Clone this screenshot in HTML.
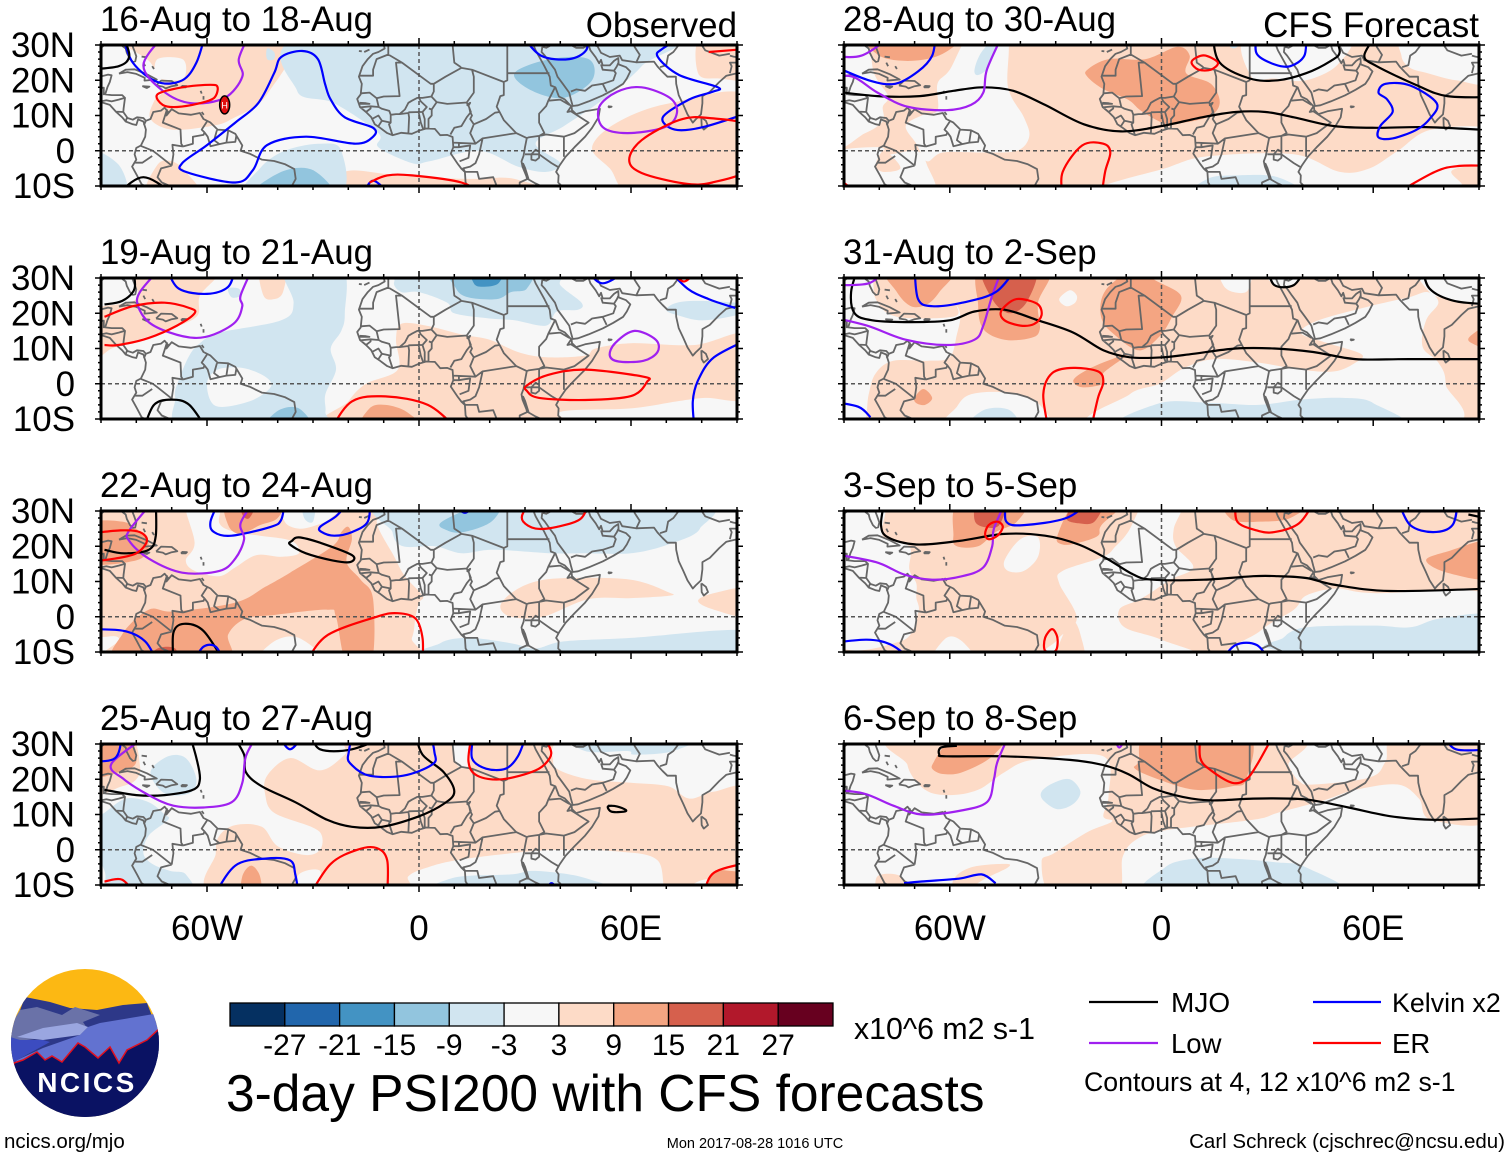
<!DOCTYPE html>
<html lang="en">
<head>
<meta charset="utf-8">
<title>3-day PSI200 with CFS forecasts</title>
<style>
html,body{margin:0;padding:0;background:#fff;width:1510px;height:1158px;overflow:hidden}
svg{display:block}
text{font-family:"Liberation Sans",Arial,sans-serif;fill:#000}
</style>
</head>
<body>
<svg id="chart" xmlns="http://www.w3.org/2000/svg" width="1510" height="1158" viewBox="0 0 1510 1158">
  <g id="panels"></g>

  <g id="colorbar"></g>
  <text x="854" y="1039" font-size="30.3">x10^6 m2 s-1</text>
  <text x="226" y="1111" font-size="51.5">3-day PSI200 with CFS forecasts</text>

  <g>
    <line x1="1089" y1="1002" x2="1158" y2="1002" stroke="#000" stroke-width="2.2"/>
    <text x="1171" y="1012" font-size="28">MJO</text>
    <line x1="1313" y1="1002" x2="1381" y2="1002" stroke="#0000ff" stroke-width="2.2"/>
    <text x="1392" y="1012" font-size="26.8">Kelvin x2</text>
    <line x1="1089" y1="1043" x2="1158" y2="1043" stroke="#a020f0" stroke-width="2.2"/>
    <text x="1171" y="1053" font-size="27.5">Low</text>
    <line x1="1313" y1="1043" x2="1381" y2="1043" stroke="#ff0000" stroke-width="2.2"/>
    <text x="1392" y="1053" font-size="27.5">ER</text>
    <text x="1084" y="1091" font-size="26.7">Contours at 4, 12 x10^6 m2 s-1</text>
  </g>

  <g>
    <clipPath id="logoClip"><circle cx="85" cy="1043" r="74"/></clipPath>
    <g clip-path="url(#logoClip)">
      <rect x="10" y="968" width="150" height="150" fill="#fcb813"/>
      <polygon points="10,1037 25,997 50,1002 70,1008 97,1010 123,1005 147,1003 160,1037 160,1120 10,1120" fill="#2d3888"/>
      <polygon points="10,1027 20,1010 37,1007 62,1015 75,1007 100,1015 83,1022 87,1028 43,1038 10,1042" fill="#6a72a8"/>
      <polygon points="160,1013 100,1023 88,1027 80,1035 43,1048 17,1060 10,1067 160,1067" fill="#6272d0"/>
      <polygon points="17,1037 43,1028 77,1023 88,1027 80,1035 43,1040" fill="#9aa6e0"/>
      <polygon points="10,1037 20,1040 43,1040 50,1042 17,1060 10,1065" fill="#3c4cc0"/>
      <polygon points="14,1063 23,1060 37,1052 45,1060 52,1056 62,1062 78,1043 85,1047 98,1058 110,1047 119,1063 127,1050 147,1040 160,1028 160,1120 10,1120" fill="#0a1263" stroke="#e01020" stroke-width="1.5"/>
    </g>
    <text x="87" y="1092" font-size="28" font-weight="700" text-anchor="middle" letter-spacing="2.5" style="fill:#fff">NCICS</text>
  </g>

  <text x="4" y="1148" font-size="20.5">ncics.org/mjo</text>
  <text x="755" y="1148" font-size="14.5" text-anchor="middle">Mon 2017-08-28 1016 UTC</text>
  <text x="1505" y="1148" font-size="20.5" text-anchor="end">Carl Schreck (cjschrec@ncsu.edu)</text>
</svg>

<script>
// ---------- Panel labels ----------
const panelTitles = ["16-Aug to 18-Aug","19-Aug to 21-Aug","22-Aug to 24-Aug","25-Aug to 27-Aug","28-Aug to 30-Aug","31-Aug to 2-Sep","3-Sep to 5-Sep","6-Sep to 8-Sep"];
const latTicks = [30,20,10,0,-10];
const latTickLabels = ["30N","20N","10N","0","10S"];
const lonTicks = [-60,0,60];
const lonTickLabels = ["60W","0","60E"];
const colorbarColors = ["#053061","#2166ac","#4393c3","#92c5de","#d1e5f0","#f7f7f7","#fddbc7","#f4a582","#d6604d","#b2182b","#67001f"];
const colorbarTicks = ["-27","-21","-15","-9","-3","3","9","15","21","27"];

// ---------- Shaded PSI200 anomaly regions: [level, [lon,lat, lon,lat, ...]] ----------
const p1Shade = [
 [6,[-83,30,-38,30,-43,16,-53,9,-59,7,-70,6,-76,9,-75,14,-72,18,-76,25]],
 [0,[-74,26,-67,26,-66,22,-68,20,-74,21]],
 [6,[-77,-10,-74,-4,-70,-3,-66,-6,-62,-10]],
 [6,[-25,-10,-21,-6,-10,-6.5,0,-7.5,15,-8,27,-8,35,-10]],
 [6,[49,1,56,8,71,13.5,90,15,90,-10,62,-10,54,-5]],
 [6,[80,30,79,22,85,20.5,90,21,90,30]],
 [-6,[-30,30,-34.5,17,-24,13.5,-11.5,5,-11.5,1,-2,-3.5,3,-3,17,0,28,-4.5,36,-6,40,-3.5,33,2,41,7,52,14.5,63,24,68,30]],
 [-12,[27,22,37,26,48,26,49,20,41,15,32,17]],
 [-6,[-45,-5,-38,0,-28,2,-22,0,-23,-10,-49,-10]],
 [-12,[-47,-10,-39,-6,-30,-5.5,-25,-10]],
 [-6,[-90,0,-85,-4,-83,-10,-90,-10]],
 [-6,[-43,29,-41,28,-41,26,-43,26]]
];
const p2Shade = [
 [6,[-70,30,-60,30,-62,29,-66,29]],
 [6,[-80,30,-57,30,-62,25,-63,19,-72,15,-81,12,-87,10,-90,6,-90,20,-80,24]],
 [6,[-45,30,-38,30,-38.5,26,-41,24,-44,25]],
 [6,[-25,-10,-20,-5,-15,0,-6,4,-6.5,12.5,-5,17,2,16.5,12,14,20,12.5,28,9,36,7.5,47,8,50,10,60,11.5,78,11,90,14,90,-3.5,81,-4,73,-5,60,-7,40,-8,39,-10]],
 [12,[-16,-10,-14,-7,-9.5,-6,-3.5,-8,0.5,-10]],
 [-6,[-38,30,-22,30,-21,20,-22,15,-25,10,-23.5,4,-26.5,-3,-26.5,-8,-28,-10,-66,-10,-69,-4,-68,1,-65,8,-62,11.5,-56.5,14.5,-39,18,-35.5,23]],
 [0,[-60,0,-57,4,-50,4.5,-43.5,2,-42,-1,-48,-5,-57.5,-6.3]],
 [-6,[-7,29,-5,26,0,26,8,23,10,20,20,18.5,27,18,36,16.5,39,20.5,45,21,46,23,40,28,38,30,-2,30]],
 [-12,[9.5,30,31,30,30.5,27,26,26,22,24,14,24.5,10.5,27]],
 [-18,[15,30,23.5,30,22.5,28.5,18,27.5,15.5,28.5]],
 [-6,[70,21,73,23,80,23.5,90,22.5,90,20.5,81,18,73,19.5]],
 [-12,[-43.5,-10,-40,-7.7,-34,-7,-30.5,-10]],
 [-6,[-54,27,-51,27,-50.5,25,-53,24.5]]
];
const p3Shade = [
 [6,[-90,30,-9,30,-12,27,-7,17,-4,11.5,1,6,0,4,-1,0,-2,-6,-6,-10,-84,-10,-85,-6,-90,-2]],
 [0,[-66,30,-56.5,30,-56.5,26.5,-52,24,-45,23,-36,21.5,-34,18,-39,17,-46,17.5,-52,14,-56.5,11.5,-63.5,13,-66,16,-63.5,21]],
 [0,[-38,30,-21,30,-25,28,-29,26,-34,25,-38,27]],
 [-6,[-33,30,-29.5,30,-30,27,-32.5,28]],
 [0,[-45,-10,-41,-7,-34,-6,-27,-10]],
 [12,[-20,25.5,-19,22,-20.5,15.5,-16.5,10.5,-13,5,-13.5,-10,-20.5,-10,-23.5,0,-26,2,-41,0.5,-49,-0.5,-54,-5,-55,-10,-85,-10,-84,-5,-76.5,2,-69.5,1.5,-52,4,-43.5,8.5,-36.5,12.5,-24.5,20,-22,24]],
 [12,[-90,26,-84,27,-79,24,-76.5,20,-80,16,-90,15.5]],
 [12,[-54,30,-39,30,-40,28,-45,26,-50.5,23.5,-54,26]],
 [18,[-50.5,30,-46,30,-48,28,-50,29]],
 [18,[-77,-10,-74,-9,-69,-9,-69,-10]],
 [-6,[-7,30,76.5,30,79.5,25,70.5,20.5,60,18,47,18,37.5,18,21,19,12,18,4.5,20,-4.5,20,-7.5,24]],
 [-12,[6.5,27,20,30,24,30,20.5,27,12.5,24,8,24.5]],
 [-6,[2.5,-10,6,-7.5,14,-6,26,-7.5,33,-9,41,-7,60,-6,90,-4,90,-10]],
 [6,[26.5,7,33,10,42.5,11,60,10.5,70.5,7,71,6,60,5.3,48,5,35,0,26,0,23,3]],
 [6,[79,4.5,83.5,6.7,90,8,90,0,83.5,2]]
];
const p4Shade = [
 [6,[-43.5,15.5,-43,21,-36.5,26,-28,22.5,-21,27,-16.5,30,33,30,37.5,27,39,23,48,20,60,19,70.5,18,76.5,14.5,83.5,16.5,90,16.5,90,-7.5,80.5,-8.5,70.5,-10,67.5,-3,56.5,-0.5,40,0,26,-1,10.5,-3,2.5,-5,-3,-7.5,-6.5,-10,-57,-10,-57.5,-1,-56.5,4,-52,7,-44.5,6.5,-40,1,-32,-1.5,-28,0,-27.5,4,-30.5,6.5,-41,10.5]],
 [0,[-34,-7,-28,-6,-29.5,-10,-34,-10]],
 [0,[9.5,30,14.5,30,14,24,10.5,24.5]],
 [6,[-40,30,-33,30,-36,28.5]],
 [6,[-90,30,-82,30,-79,24,-80,20,-84,18,-90,16]],
 [12,[-90,30,-83,30,-80,25,-85,22,-90,21]],
 [12,[-50,-10,-50,-7.5,-47.5,-4.5,-45,-7.5,-45,-10]],
 [12,[81,-10,83.5,-6.5,88,-6,90,-7.5,90,-10]],
 [-6,[-76,22,-71,26.5,-66,26,-63,20,-65,16,-72,16]],
 [-6,[-83,14.5,-76.5,13.5,-72,10,-71,8.5,-76.5,4,-78,-1,-75.5,-4,-70.5,-6,-66,-7,-65,-10,-87,-10,-89,-6,-90,7,-89,10.5]],
 [-6,[5,-10,9.5,-8,26,-7,33,-6,47,-8,55,-10]],
 [-6,[43.5,30,47,28,59,28,61,27,72,28,79,30]]
];
const p5Shade = [
 [6,[-90,30,90,30,90,-10,-90,-10]],
 [0,[-90,30,-84,30,-81.5,22,-77.5,15.5,-79,12.5,-79,8.5,-84,5,-90,2]],
 [0,[-54,30,-44,30,-43.5,18,-39,9.5,-37.5,4,-41,0,-50.5,-0.5,-62,-0.5,-66.5,-3,-69.5,2,-72.5,7,-68,10,-63.5,11.5,-63.5,19,-60,23]],
 [0,[-90,-0.5,-80,1,-77.5,-1,-69.5,0,-66.5,-4,-65,-10,-85,-10,-90,-6]],
 [6,[-79,0,-77,-1,-74,-5,-79,-6,-81,-4]],
 [0,[-16.5,-10,2.5,-4.5,14,-1.5,37.5,-1,50.5,-6,59,-5,67,0,76.5,6,90,6,90,-3,82.5,-5.5,77.5,-10]],
 [0,[24.5,30,52.5,30,50,24.5,41,20,32,20.5,25.5,21]],
 [0,[69.5,30,90,30,90,19.5,83.5,20,75.5,22,70.5,23.5,68,27]],
 [12,[-21,23,-15,26,-4.5,26,4.5,29.5,8,27,7,22,14,19,16.5,13.5,13,9.5,2.5,7.5,-1,8.5,-6,11.5,-9.5,14.5,-16.5,17.5,-21,21]],
 [12,[-83,30,-58,30,-62,27.5,-71,25.5,-80,27]],
 [-6,[-53,23,-51,28,-46,30,-49,24,-52,21.5]],
 [-6,[9.5,-10,13,-8,21,-7,33,-7.5,39.5,-10]],
 [-6,[17,30,24,30,20.5,29]]
];
const p6Shade = [
 [6,[-90,30,90,30,90,-10,-90,-10]],
 [0,[-90,30,-83,30,-81,24,-75,19,-59,19,-58,22,-57,19,-58,14,-60,7.5,-66,6.5,-76,6.5,-81,3,-83,-3,-85,-10,-90,-10]],
 [6,[-90,-7,-87,-10,-90,-10]],
 [0,[-61,-10,-58,-6.5,-54,-3,-44.5,-2.5,-35,-5.5,-33.5,-10]],
 [0,[-16.5,-10,-9,-3,-0.5,0,6.5,4.5,15,7,27.5,6,39.5,4,49,3.5,55,6,56.5,8.5,45.5,12,39.5,14.5,44.5,18,59,22,70,24.5,75.5,26,78.5,23,75,18,74,10.5,78.5,6,80.5,0,78,-10]],
 [0,[73.5,30,90,30,90,22.5,82,24,76,26]],
 [0,[16.5,30,25,30,24.5,26.5,20.5,26,17.5,28]],
 [0,[29,30,41,30,37,27.5,32,28]],
 [0,[-29,24,-26,26.5,-24,25,-24.5,23,-27,22]],
 [-6,[-9,-10,-0.5,-5.5,15,-5.5,27.5,-6,39.5,-4.5,51.5,-4,60,-5.5,65,-10]],
 [-6,[-55,-10,-50.5,-7.5,-43,-7.5,-41,-10]],
 [12,[-78,30,-59,30,-63,26,-66.5,22.5,-71,22,-75,26]],
 [12,[-51,30,-32,30,-35,23,-34.5,15.5,-37,13,-44.5,12.5,-50.5,15.5,-52,22.5]],
 [18,[-50.5,30,-36,30,-38,23.5,-43,20,-48,24]],
 [12,[-17,24,-14,28.5,-6.5,30,-2,29.5,5.5,25,3,19,-0.5,13.5,-6.5,9.5,-14,14.5,-17,18.5]],
 [12,[-25,1,-21,4,-14,7,-10,8,-16.5,3,-16.5,0,-22.5,-1]],
 [12,[-70,-4,-67.5,-1.5,-65,-4,-67,-6,-69.5,-5.5]],
 [12,[87.5,13.5,90,17,90,10,88,11.5]]
];
const p7Shade = [
 [6,[-90,30,90,30,90,-10,-90,-10]],
 [0,[-79,30,-79,23,-71.5,20,-71.5,13.5,-69.5,9.5,-69.5,5.5,-69,1,-74,-7,-90,-6,-90,30]],
 [0,[-44.5,16,-40,22,-35,22.5,-35,17,-39,13,-43.5,13]],
 [0,[-4,30,6,30,3.5,25,4,20,9,14,2.5,10.5,-3.5,6.5,-7,4.5,-12,2,-10.5,-3,0,-6.5,13,-10,-32.5,-10,-29.5,-6.5,-24,-0.5,-29,9.5,-28,13,-16.5,17,-13,20,-9.5,24]],
 [6,[-30,-10,-27,-3,-25,-1,-23,-5,-22,-10]],
 [0,[-65,-10,-61,-6,-56.5,-7,-53,-10]],
 [0,[21,-10,28,-4,37.5,2,41,6,49.5,8,60,6.7,90,6,90,-10]],
 [-6,[33.5,-9.5,34.5,-6,41,-3,60,-2.5,70.5,-3,79,-0.5,90,0,90,-10]],
 [12,[-57,30,-39,30,-41,27,-47,24,-52,20,-58,20,-59,23]],
 [12,[-29.5,23,-23.5,30,-10.5,30,-17,26,-18,23,-23.5,21,-28,20.5]],
 [18,[-53,27.5,-52,30,-44.5,30,-46,26,-50.5,25.5]],
 [18,[-27,28,-23.5,30,-16.5,30,-19,27,-23.5,26.5]],
 [12,[19,30,41,30,36.5,28,28,27,20,27.5]],
 [12,[75,16,81,18.5,90,21.5,90,11,81,12.5]]
];
const p8Shade = [
 [6,[-72,24,-70,30,33,30,36,24,39,19.5,43,18.5,59,20.5,63.5,25,67,30,90,30,90,9,76.5,8.5,73,14.5,67,18.5,55,17,46,14,33,10.5,26,8.5,1,5.5,-7,3,-11,-2,-13,-10,-30.5,-10,-34,-3.5,-30.5,-1,-21,5,-14,8,-16.5,9.5,-15,15.5,-16.5,26.5,-36.5,25.5,-44.5,22,-52,17,-60,15.5,-67,17]],
 [6,[-59,-8.5,-54,-5,-44.5,-4,-43.5,-5,-50.5,-8.5,-58,-10]],
 [6,[-80.5,-7.5,-74,-7.5,-73,-10,-80,-10]],
 [12,[-64.5,25,-62,29,-59,30,-44.5,30,-48,26.5,-56.5,22,-62,21.5,-65,23]],
 [12,[-6.5,25,-3,30,24,30,24,20,20,18,9.5,17,-1,20,-7.5,23]],
 [-6,[-34,16.5,-30.5,19,-26,20,-23,16.5,-25,13,-29.5,11.5,-33.5,14]],
 [-6,[-2.5,-10,1,-5,9.5,-2.5,20,-2.5,32,-3.5,41,-5,50.5,-10]]
];
const panelShades = [p1Shade,p2Shade,p3Shade,p4Shade,p5Shade,p6Shade,p7Shade,p8Shade];

// ---------- Filtered contours: [wave, closed(1/0), [lon,lat, ...]] ----------
const p1Lines = [
 ["kelvin",1,[-33,28.3,-28.6,26,-26.6,19,-25,14.5,-21,9.5,-13,6.5,-13,4,-18,2,-32,4,-43,1.6,-47,-5.5,-52,-9,-66,-6,-67,-3.5,-60,1.6,-52,8,-45.5,13.5,-41,22,-39,26.6]],
 ["kelvin",0,[-84,30,-81,25,-74,19.5,-67,20,-63,25,-60.5,30]],
 ["kelvin",0,[29,30,34.5,27,42.5,26,47.3,28.5,47.5,30]],
 ["kelvin",0,[76,30,69,29,67.6,26.6,73.6,21.5,84.6,18,83,16.7,76.4,14.5,69,9.5,72.4,6,80.4,6.7,90,11]],
 ["kelvin",0,[-16,-10,-13,-8.5,-7.6,-10]],
 ["low",0,[-72,30,-78,24.3,-72.5,17,-64.5,13.5,-55,15,-50,21,-51,26,-48,30]],
 ["low",1,[63,18,71,15,73,10.7,69.6,6.7,59,5,52,6.7,51,12.4,56,16.7]],
 ["er",1,[-74,16,-67,18,-59,18.7,-57,18,-58,15,-62,13.5,-68.5,12.4,-72.5,13]],
 ["er",1,[90,6.5,82,9.3,73.6,8.7,63,3,59.5,-2.6,63,-6.3,75,-9.3,83,-9,90,-4.6]],
 ["er",0,[-14,-9,-9,-7,-2,-7,12,-9,19,-10]],
 ["er",0,[82,28,90,29]],
 ["mjo",0,[-90,23,-85,24,-82,27,-84,30]],
 ["mjo",0,[-86,-10,-78,-7.5,-68.5,-10]]
];
const p2Lines = [
 ["mjo",0,[-89,22.5,-84,23.5,-80.5,27,-81,30]],
 ["mjo",0,[-78,-10,-75,-6,-70,-4.5,-65,-6,-60,-10]],
 ["kelvin",0,[-71.5,30,-68,27,-60,25.5,-54,27.5,-52,30]],
 ["kelvin",0,[47,30,52,28.5,60,30]],
 ["kelvin",0,[70,30,76,27,82,24,89.5,21.5]],
 ["kelvin",0,[90,13,83.5,7.5,79,1,77.5,-5,78,-10]],
 ["low",0,[-73,30,-79,26,-79.5,22,-76.5,17.5,-70.5,14.5,-63.5,13,-58,14,-52,17.5,-50,22,-50.5,25,-47,30]],
 ["low",1,[61,15,67,12.5,67.5,9,63.5,6.5,56.5,6.3,54,8,55.5,11.5]],
 ["er",0,[-89,19,-81,22,-72,23,-65,21.5,-63.5,20,-68.5,16.5,-76.5,13,-85,11,-89,11]],
 ["er",1,[30.5,-0.5,36.5,2.5,47,4,63.5,2,64.5,0.5,60,-3.5,47,-4.6,34,-4,30.5,-2]],
 ["er",0,[-25,-10,-19,-5,-9.5,-3.6,2.5,-6,11,-10]],
 ["er",0,[70.5,30,75,29,79,30]]
];
const p3Lines = [
 ["kelvin",0,[-56.5,30,-59,27,-58,24,-53,23,-42,25.5,-39,27.5,-38,30]],
 ["kelvin",1,[-28,25.5,-23.5,28.5,-19,30,-14.5,30,-14.5,27,-19,24,-24,23,-27.5,24]],
 ["low",0,[-75,30,-82,24.5,-82,21.5,-76.5,16.5,-67,12.5,-56.5,13,-52,16.5,-49.5,22,-50.5,26.5,-46.5,30]],
 ["mjo",0,[-74.5,30,-74.5,23,-76.5,19,-83.5,18,-89,19]],
 ["er",0,[-90,23.5,-84.5,24.5,-79,24,-77,21.5,-80,18,-86,16.5,-90,15.5]],
 ["mjo",1,[-36,21.5,-34,22.5,-28,21,-19,17.5,-19.5,15.5,-24.5,16,-32,18,-36.5,20.5]],
 ["kelvin",0,[9,30,13,29.5,16.5,30]],
 ["er",1,[29.5,29.5,33,30,46,30,46,28,39,25.5,33,25,29.5,27]],
 ["er",0,[-32,-10,-26,-5.3,-12,0,-6,1,-1,-0.5,1,-6,1,-10]],
 ["mjo",0,[-69.5,-10,-69.5,-4.5,-66.5,-2,-61,-4,-55,-10]],
 ["kelvin",0,[-90,-3.5,-83.5,-4,-77.5,-7,-74,-10]],
 ["kelvin",0,[-64,-10,-61,-8.5,-57.5,-8.5,-55,-10]]
];
const p4Lines = [
 ["mjo",0,[-65,30,-63,26,-62,20,-64,17,-72,15.5,-80,15.5,-89,17]],
 ["mjo",0,[-53,30,-49.5,27,-49,22,-44.5,18,-35,13.5,-26,8.5,-19,6.5,-10.5,6.5,0,9.5,7,13,10,16.5,7,22,1,27,-1,30]],
 ["mjo",0,[-30.5,30,-28,28.5,-19,28.5,-7,30]],
 ["mjo",1,[53.5,12.3,56,12.3,58.5,11.3,58,10.8,54.5,10.8]],
 ["low",0,[-76,30,-87,24.5,-83.5,20,-76.5,15.5,-69.5,12.5,-61,12,-53,13.5,-50,19,-49,26.5,-45.5,30]],
 ["kelvin",0,[-90,25,-86,26,-84,30]],
 ["kelvin",0,[-40,30,-36.5,28.5,-32.5,30]],
 ["kelvin",1,[-20,27,-16.5,30,1,30,4.5,27,3.5,24,-4.5,21,-14,21,-19,24]],
 ["kelvin",0,[15.5,30,15,26,19,23,24.5,23,28,26.5,30.5,30]],
 ["kelvin",0,[-58,-10,-52,-4.5,-43.5,-2.5,-36.5,-3,-35,-7,-34,-10]],
 ["kelvin",0,[35,-10,37.5,-9.5,40.5,-10]],
 ["er",0,[15,30,14,25,16.5,21,23.5,20,33,22.5,37,26,37,29,34,30]],
 ["er",0,[-31,-10,-25,-4,-17.5,0,-12,0.5,-9,-3,-9,-10]],
 ["er",0,[-89,-9,-84,-8.5,-80,-10]],
 ["er",0,[80.5,-10,83.5,-6.5,90,-3.5]]
];
const p5Lines = [
 ["mjo",0,[-90,17,-80.5,15.5,-68.5,15.5,-59,17,-50.5,18,-42,17,-33,13,-22,7.5,-11.5,5.5,0,7,11.5,9.5,21,11,29.5,11,37.5,9.5,49,7,61,6.5,75,6.7,90,5.8]],
 ["mjo",0,[14.5,30,16.5,25,25,20.5,33,20,41,22,48,25.5,50.5,28,49,30]],
 ["mjo",0,[61,30,57.5,27,61,24,72.5,18.5,81,15.5,90,15.2]],
 ["low",0,[-90,27,-85,27,-76,30]],
 ["low",0,[-90,21,-87.5,21,-80.5,16.5,-72,12.5,-61,11.5,-54,13,-50.5,16.5,-49.5,23,-45,30]],
 ["kelvin",0,[-90,24.5,-83,20,-75.5,19,-69,22.5,-65,27,-64,30]],
 ["kelvin",0,[27,30,27,27.5,32,24.5,36.5,24,40.5,27,41,30]],
 ["kelvin",1,[63.5,19,70.5,18.5,78,13.5,76,9,72,5.8,65.5,3.5,61.5,3.8,62,7,65.5,11,64,14.5,61.5,16.5]],
 ["er",1,[12.5,27,16,25,14,23,10.5,23,8.5,25,10,26.5]],
 ["er",0,[-28,-10,-28,-6,-22.5,1.5,-16.5,2,-14.5,-0.5,-16,-6,-17,-10]],
 ["er",0,[-90,-6,-85,-10]],
 ["er",0,[65,-10,77.5,-6,84.5,-4.3,90,-4.3]]
];
const p6Lines = [
 ["mjo",0,[-86,30,-88,26,-87,20,-82,18,-71,17.5,-60,18,-53,20.5,-44.5,21,-35,18,-25,14.5,-16.5,9.5,-9,7.5,0.5,7.5,9,8.5,21,10,32,10,43,9,55,7,70,7,90,7]],
 ["mjo",0,[30,30,32,28,37.5,28,41,30]],
 ["mjo",0,[74,30,76,27,83,23.5,90,22.5]],
 ["low",0,[-90,28,-83,28.5,-78,30]],
 ["low",0,[-90,19,-83.5,16.5,-72.5,12.5,-61,11,-53,12.5,-50.5,16.5,-48,25,-45,30]],
 ["kelvin",0,[-70,30,-69,24,-65,22,-56.5,23,-47,26,-41,30]],
 ["kelvin",0,[-90,-5,-86,-6.5,-82.5,-9.5]],
 ["er",1,[-39.5,24,-35,22.5,-34,19.5,-36,17,-40,16.5,-44.5,18,-45.5,20.5,-42.5,23.5]],
 ["er",0,[-32,-10,-33.5,-3,-31,3,-25,4.5,-18,3.5,-16.5,0.5,-18,-4,-20,-10]]
];
const p7Lines = [
 ["mjo",0,[-78.5,30,-79.5,26,-77.5,22.5,-69.5,20.5,-57.5,21.5,-44.5,23.5,-33,23,-23.5,20.5,-15.5,16.5,-8,12,-2.5,10.5,12,10.5,26,11.5,33,11.5,41,11,49.5,9,65,7.3,90,8]],
 ["mjo",0,[87,29,90,27.5]],
 ["low",0,[-90,29,-80,30]],
 ["low",0,[-90,18,-81,15.5,-73,12,-65,10.5,-56.5,11.5,-50.5,14,-48,20,-47.5,25,-44,30]],
 ["kelvin",0,[-44,30,-44,27,-39,26,-27,28,-20,30]],
 ["kelvin",0,[67,30,70.5,26,77,24,82.5,26,84,30]],
 ["kelvin",0,[-90,-7.5,-83.5,-6.5,-76.5,-8,-70,-10]],
 ["kelvin",0,[16.5,-10,21,-8,27,-8,31,-10]],
 ["er",1,[-46.5,27,-45,25.5,-46.5,23,-49,22,-50,23.5,-49,26]],
 ["er",0,[21,30,21.5,27,27,24.5,32,24,39,26.5,43.5,30]],
 ["er",1,[-31,-3.5,-29.5,-6,-30,-9.6,-33,-9.6,-33,-6]]
];
const p8Lines = [
 ["mjo",0,[-58,29.5,-62.5,29,-63,27,-61,26.5,-44.5,26.5,-26,25.5,-16.5,24,-9.5,21.5,-2.5,17.5,6,15,14,14,26,14.5,36.5,14.5,43,14,53,12,65,9.5,77,8.5,90,9]],
 ["low",0,[-90,29.5,-80,30]],
 ["low",0,[-13.5,30,-12,29,-9.5,30]],
 ["low",0,[-90,17,-84.5,16,-76,12.5,-68,10,-57.5,11,-49.5,13.5,-47.5,20,-46.5,25,-43,30]],
 ["kelvin",0,[-73,-9.5,-68,-9,-57.5,-8.2,-51,-7,-47,-9.5]],
 ["kelvin",0,[80,30,83.5,28.5,90,28.5]],
 ["er",0,[11,30,11,26,14,22.5,20,19,24,20,27,24,32,30]]
];
const panelLines = [p1Lines,p2Lines,p3Lines,p4Lines,p5Lines,p6Lines,p7Lines,p8Lines];

// Hurricane symbol observed in the first panel [lon, lat]
const stormPosition = [-55,13];

// ---------- Geography: polylines as [lon,lat, ...] ----------
const mapLines = [
 [-90,29.2,-89,30,-86,30.4,-84.3,30,-83,29,-82.7,27.8,-81.8,26,-81,25.2,-80.3,25.4,-80,26.8,-80.6,28.5,-81.3,30.3],
 [-90,21.1,-88,21.6,-87,21.4,-87.5,19.5,-88.2,18,-88.8,16,-87,15.8,-84,15.8,-83.2,15,-83.6,12,-83.7,11,-82.5,9.3,-81,8.8,-79.8,9.5,-78,9.3,-77.3,8.5,-76,9,-75.2,11,-73,11.4,-72,12.2,-71,11,-71.5,10,-70,11.8,-68,10.6,-64.5,10.2,-62,10.7,-61,9,-59,8,-57,6,-54,5.8,-52,4.8,-50,1.5,-50.5,0,-48,-0.8,-44.5,-2.5,-41,-2.9,-38,-3.8,-35.3,-5.2,-34.9,-8,-36,-10],
 [-90,13.8,-87.5,13,-85.7,11,-84,9.5,-83,8.3,-81,7.5,-80,7.3,-79.5,8.9,-78,8.3,-77.3,6,-77.5,4,-78.7,1.5,-80,0.8,-80.5,-1,-80,-2.5,-81.2,-4.5,-79.8,-7,-78.5,-9.5,-77.6,-10],
 [-84.9,21.9,-83,23,-80.5,23.1,-77,21.7,-74.2,20.2,-77.7,19.9,-77.6,20.7,-80,21.8,-82.5,22.3,-84.9,21.9],
 [-74.4,18.5,-73,19.9,-70,19.8,-68.4,18.6,-70,18.3,-71.7,17.7,-72.5,18.2,-74.4,18.5],
 [-78.3,18.3,-76.3,18.2,-77,17.8,-78.3,18.3],
 [-67.2,18.4,-65.7,18.3,-66,18,-67.2,18,-67.2,18.4],
 [-78.5,26.7,-77,26.5],[-78,25,-77.5,24],[-75.5,24,-75,23.2],
 [-61.8,17,-61.5,16.2],[-61,15.5,-61,14.5],[-61.5,11,-60.9,10.2],
 [-17,28.3,-16.2,28.2],[-15.5,28,-14,28.7],
 [-10,30,-9.7,29,-11.5,28,-13,27.5,-14.5,26,-16,24,-17,21,-16.2,19,-16.5,16,-17.5,14.7,-16.7,12.4,-15,11,-13.5,9.5,-12.5,7.5,-11,6.5,-9,5,-7.5,4.4,-5,5.1,-2,4.8,0,5.7,2,6.3,4.5,6.2,6,4.4,8,4.5,9.5,3.9,9.7,1,9,-0.8,11,-3.8,12,-5.1,13,-6,13.2,-9,13.8,-10],
 [32.4,30,33,28.5,34,26.7,35.5,24,37,21,37.3,18.5,38.6,18,39.6,15.4,41.2,14.6,43.2,12.5,43.3,11.5,44.5,10.4,47,11.2,51.2,11.9,50.8,9.5,49,6.5,47,4,44,1,41.5,-1.7,39.7,-4.3,38.8,-6,39.5,-7,39.4,-9,40.4,-10],
 [34.9,29.5,34.7,28,35.6,27,37,25,38.5,23,39.2,21,40.7,19,42.5,16.5,43,14.5,43.5,12.7,45,12.9,48,14,52,15.7,55,17.3,57.8,19,58.8,20.5,59.8,22.5,58.6,23.7,56.5,24.5,56.4,26.3,55.2,25.5,54,24.2,52,24.2,51.5,25.8,51,24.8,50,26.5,48.5,28.5,48,30],
 [49,30,50.5,29.7,51.5,27.8,54,26.6,56.8,27,57.5,25.7,61.5,25.1,66.5,25.3,67.5,23.9,68.9,22.4,70.3,21,72,21,72.7,21,72.8,19,73.5,15.8,74.8,13,76,10.3,77.5,8,78.3,8.9,79.8,10.3,80.2,13.5,80.2,15.5,82.3,16.7,85,19.5,87,21.3,88.8,21.7,90,22],
 [79.9,9.5,81.2,8.5,81.8,7,80.6,6,80,7,79.9,9.5],
 [53.5,12.6,54.5,12.5,53.8,12.3,53.5,12.6],
 [31.8,-1,33,0.3,34,-0.3,34,-2,33,-2.8,31.8,-2.5,31.8,-1],
 [29.2,-3.5,29.8,-5,30.6,-8,31,-8,30,-4.8,29.4,-3.5],
 [13.5,13,14.5,13.6,14,12.8,13.5,13],
 [-8.7,30,-8.7,27.3,-12,26,-13,23,-13,21.3,-17,21.3],
 [-8.7,27.3,-4.8,25,-6.5,25,-5.5,15.5,-10,15.4,-12,14.9,-14,16.5,-16.4,16.3],
 [-4.8,25,3.3,19,4.2,19,4.2,16.8,3.5,15.4,1,15,-0.5,15,-2,14.2,-3,13.6,-4,11.7,-5.5,10.4,-6.5,10.4,-8,10.2,-8.4,11.3,-10.5,11.9,-11.4,12.4,-12,14.9],
 [-16.8,13.3,-14,13.3,-15,13.5,-16.8,13.6],
 [-16.7,12.3,-13.7,12.6,-11.4,12.4],
 [-15,11,-13.7,12,-13.7,12.6],
 [-13.3,9,-11.5,10,-10.5,8.5,-11.5,7],
 [-10.5,8.5,-8,8,-8.5,7.5,-7.5,4.4],
 [-8,8,-8,10.2],
 [-5.5,10.4,-3,10.7,-2.8,9.5,-3,5],
 [-3,10.9,0,11,1,11,2.2,12.4,0.5,14,0,15],
 [-0.1,11,0.5,8,1.2,6.1],
 [1,11,1.6,9,1.6,6.3],
 [2.8,12,3.6,11.7,3.6,10,2.7,9,2.7,6.3],
 [3.6,11.7,5,13.8,8,13.3,13.5,13.7,14.2,12.3,14.7,11,13.5,9.5,12,7,10,6.5,8.9,4.6],
 [3.5,15.4,5,13.8],
 [13.5,13.7,15.5,16.5,15.5,21,15,23,12,23.5,11.5,24,10,25,9.5,30],
 [12,23.5,7.5,21,4.2,19],
 [15,23,24,19.5,24,15.8,23,15.5,22.5,14,22,12.5,22.8,11,21.5,10.8,19,9,15.5,7.5,14.5,9,15,10,14.5,11,14.2,12.3],
 [25,30,25,22,36.9,22],
 [24,19.5,25,20,25,22],
 [22.8,11,24,8.7,27.5,5,30.5,3.6,31,3.8,34,4.2,35.5,5,34,8,34,10.5,36,12.7,36.6,14.2,38.5,18],
 [15.5,7.5,14.5,5,16,2],
 [9.8,2.3,16,2,18,3.5,27.5,5],
 [18,3.5,17,-1,16,-3.5,14.5,-4.5,12.5,-5,13,-5.9],
 [9.8,1,11.3,1,11.3,2.2],
 [11.3,1,13,1.3,14.5,1.5,14,-2,11.5,-3],
 [30.5,3.6,30,1,29.6,-1.4,29,-3,29.3,-4.5,30.7,-8,28.5,-9,28.5,-10],
 [34,4.2,34,1,34,-1,30,-1],
 [41,4,41,-1.7],
 [41,4,36,4.6,34,4.2],
 [41,4,44,5,48,8,43,11.2,42,11,43,12.5],
 [36.6,14.2,40,14.5,42.5,13],
 [34,-1,37.5,-3.5,39.5,-4.7],
 [30.7,-8,33,-9.3,34.5,-10],
 [13,-6,16.5,-6,17,-8,21,-7.5,22,-10],
 [34.9,29.5,36,29.2,37.5,30],
 [47.5,29.8,46.5,29.2,44.5,29.2,43,30],
 [43,16.8,44.5,17.4,47,17,49,18.5,52,19,55,20,55.7,22,55.2,22.7,52,23,51.5,24.5],
 [52,19,53.1,16.7],
 [55.2,22.7,56,24,56.4,24.9],
 [61.5,25.1,62.5,27.2,61,29.5,61,30],
 [68.2,23.7,70,24.3,70.5,27,72,28,73.5,30],
 [80,30,81,28.5,85,27,88,27.5],
 [88,27,89,26.7,90,26.5],
 [90,25,88,25,88.5,24,88,22],
 [-90,17.8,-89.2,17.9,-89.2,15.8],
 [-90,14,-88.5,14.3,-87,14,-85,14.5,-83.3,15],
 [-85.7,11.1,-83.7,11],
 [-83,8.3,-82.6,9.5],
 [-77.3,8.5,-77.9,7.2],
 [-71.3,11.8,-72.5,8,-70,7,-67.5,6,-67.3,2,-66.8,1.2],
 [-66.8,1.2,-69.8,1.7,-69.5,-1,-70,-4.2],
 [-78.8,1.4,-75.3,0,-74,-1,-70,-4.2],
 [-80.3,-3.4,-78.3,-3.4,-75.5,-1.5],
 [-70,-4.2,-73,-5,-74,-7.5,-72.8,-9,-70.5,-10],
 [-66.8,1.2,-64,2,-64,4,-61,4.5,-60.7,5.2],
 [-60.7,5.2,-61.5,6,-60,8.3],
 [-60.7,5.2,-59.8,4,-59,1.3,-56.5,1.9],
 [-57.2,5.8,-58,3,-56.5,1.9],
 [-54,5.7,-54.5,2.3,-52,2.5,-51.7,4.2],
 [-56.5,1.9,-54.5,2.3]
];

// ---------- Layout ----------
const SVGNS = "http://www.w3.org/2000/svg";
const panelW = {left:636, right:635};
const panelH = 141;
const rowTops = [45,278,511,744];
const colLefts = [101,844];
const lineColors = {mjo:"#000000",kelvin:"#0000ff",low:"#a020f0",er:"#ff0000"};

function shadeColor(level){
  if(level===0) return colorbarColors[5];
  const idx = Math.round(level/6)+5;
  return colorbarColors[Math.max(0,Math.min(10,idx))];
}
function mk(tag,attrs,parent){
  const el=document.createElementNS(SVGNS,tag);
  for(const k in attrs) el.setAttribute(k,attrs[k]);
  if(parent) parent.appendChild(el);
  return el;
}
function lonScale(lon,x0,w){ return x0+(lon+90)/180*w; }
function latScale(lat,y0){ return y0+(30-lat)/40*panelH; }
// Points on the frame are pushed outside so that clipped shapes meet the frame squarely
function pushLon(lon){ return lon>=90?94:(lon<=-90?-94:lon); }
function pushLat(lat){ return lat>=30?33:(lat<=-10?-13:lat); }

function toPoints(flat,x0,y0,w,push){
  const pts=[];
  for(let i=0;i<flat.length;i+=2){
    const lon=push?pushLon(flat[i]):flat[i];
    const lat=push?pushLat(flat[i+1]):flat[i+1];
    pts.push([lonScale(lon,x0,w),latScale(lat,y0)]);
  }
  return pts;
}
function smoothPath(p,closed){
  const n=p.length;
  let d="M"+p[0][0].toFixed(1)+" "+p[0][1].toFixed(1);
  const m=closed?n:n-1;
  for(let i=0;i<m;i++){
    const a=closed?p[(i-1+n)%n]:p[Math.max(i-1,0)];
    const b=p[i%n];
    const c=closed?p[(i+1)%n]:p[Math.min(i+1,n-1)];
    const e=closed?p[(i+2)%n]:p[Math.min(i+2,n-1)];
    const c1x=b[0]+(c[0]-a[0])/6,c1y=b[1]+(c[1]-a[1])/6;
    const c2x=c[0]-(e[0]-b[0])/6,c2y=c[1]-(e[1]-b[1])/6;
    d+="C"+c1x.toFixed(1)+" "+c1y.toFixed(1)+" "+c2x.toFixed(1)+" "+c2y.toFixed(1)+" "+c[0].toFixed(1)+" "+c[1].toFixed(1);
  }
  return closed?d+"Z":d;
}
function polyPath(flat,x0,y0,w){
  let d="";
  for(let i=0;i<flat.length;i+=2){
    d+=(i?"L":"M")+lonScale(flat[i],x0,w).toFixed(1)+" "+latScale(flat[i+1],y0).toFixed(1);
  }
  return d;
}

const root=document.getElementById("panels");
panelTitles.forEach(function(title,idx){
  const col=idx<4?0:1;
  const row=idx%4;
  const x0=colLefts[col];
  const y0=rowTops[row];
  const w=col===0?panelW.left:panelW.right;

  const g=mk("g",{},root);
  
  

  const clip=mk("clipPath",{id:"clip"+idx},g);
  mk("rect",{x:x0,y:y0,width:w,height:panelH},clip);

  const bg=mk("rect",{x:x0,y:y0,width:w,height:panelH,fill:colorbarColors[5]},g);
  
  

  const body=mk("g",{"clip-path":"url(#clip"+idx+")"},g);

  panelShades[idx].forEach(function(s){
    const el=mk("path",{d:smoothPath(toPoints(s[1],x0,y0,w,true),true),fill:shadeColor(s[0])},body);
    
    
  });

  let md="";
  mapLines.forEach(function(m){ md+=polyPath(m,x0,y0,w); });
  const mapEl=mk("path",{d:md,fill:"none",stroke:"#666","stroke-width":1.8,"stroke-linejoin":"round"},body);
  
  

  const eqY=latScale(0,y0);
  const eq=mk("line",{x1:x0,x2:x0+w,y1:eqY,y2:eqY,stroke:"#555","stroke-width":1.5,"stroke-dasharray":"4 3"},body);
  
  
  const mx=lonScale(0,x0,w);
  const pm=mk("line",{x1:mx,x2:mx,y1:y0,y2:y0+panelH,stroke:"#555","stroke-width":1.5,"stroke-dasharray":"4 3"},body);
  
  

  panelLines[idx].forEach(function(l){
    const el=mk("path",{d:smoothPath(toPoints(l[2],x0,y0,w,true),l[1]===1),fill:"none",stroke:lineColors[l[0]],"stroke-width":2.2},body);
    
    
  });

  if(idx===0){
    const sx=lonScale(stormPosition[0],x0,w), sy=latScale(stormPosition[1],y0);
    const storm=mk("ellipse",{cx:sx,cy:sy,rx:5,ry:9,fill:"#e01010",stroke:"#000","stroke-width":1.5},body);
    
    
    const stormLabel=mk("text",{x:sx,y:sy+3.5,"font-size":9,"text-anchor":"middle",style:"fill:#fff"},body);
    stormLabel.textContent="H";
    
    
  }

  // Ticks
  let td="";
  for(let lon=-90;lon<=90;lon+=10){
    const x=lonScale(lon,x0,w);
    const len=(lon%60===0)?7:4;
    td+="M"+x.toFixed(1)+" "+(y0-len)+"V"+y0+"M"+x.toFixed(1)+" "+(y0+panelH)+"V"+(y0+panelH+len);
  }
  for(let lat=-10;lat<=30;lat+=2){
    const y=latScale(lat,y0);
    const len=(lat%10===0)?6:3;
    td+="M"+(x0-len)+" "+y.toFixed(1)+"H"+x0+"M"+(x0+w)+" "+y.toFixed(1)+"H"+(x0+w+len);
  }
  const ticks=mk("path",{d:td,stroke:"#000","stroke-width":1.5,fill:"none"},g);
  
  

  const frame=mk("rect",{x:x0,y:y0,width:w,height:panelH,fill:"none",stroke:"#000","stroke-width":3},g);
  
  

  const tt=mk("text",{x:x0-1,y:y0-14,"font-size":34.85},g);
  tt.textContent=title;
  
  

  if(col===0){
    latTicks.forEach(function(lat,i){
      const lab=mk("text",{x:x0-26,y:latScale(lat,y0)+12,"font-size":34.9,"text-anchor":"end"},g);
      lab.textContent=latTickLabels[i];
      
      
    });
  }
  if(row===3){
    lonTicks.forEach(function(lon,i){
      const lab=mk("text",{x:lonScale(lon,x0,w),y:y0+panelH+55,"font-size":35,"text-anchor":"middle"},g);
      lab.textContent=lonTickLabels[i];
      
      
    });
  }
  if(idx===0){
    const obs=mk("text",{x:737,y:37,"font-size":34.9,"text-anchor":"end"},g);
    obs.textContent="Observed";
    
    
  }
  if(idx===4){
    const fc=mk("text",{x:1479,y:37,"font-size":35,"text-anchor":"end"},g);
    fc.textContent="CFS Forecast";
    
    
  }
});

// ---------- Colorbar ----------
const cb=document.getElementById("colorbar");
const cbX=230, cbY=1003, cbW=603, cbH=23;
const boxW=cbW/colorbarColors.length;
colorbarColors.forEach(function(c,i){
  const box=mk("rect",{x:cbX+i*boxW,y:cbY,width:boxW,height:cbH,fill:c,stroke:"#000","stroke-width":1.3},cb);
  
  
});
colorbarTicks.forEach(function(t,i){
  const lab=mk("text",{x:cbX+(i+1)*boxW,y:1055,"font-size":30,"text-anchor":"middle"},cb);
  lab.textContent=t;
  
  
});
</script>
</body>
</html>
